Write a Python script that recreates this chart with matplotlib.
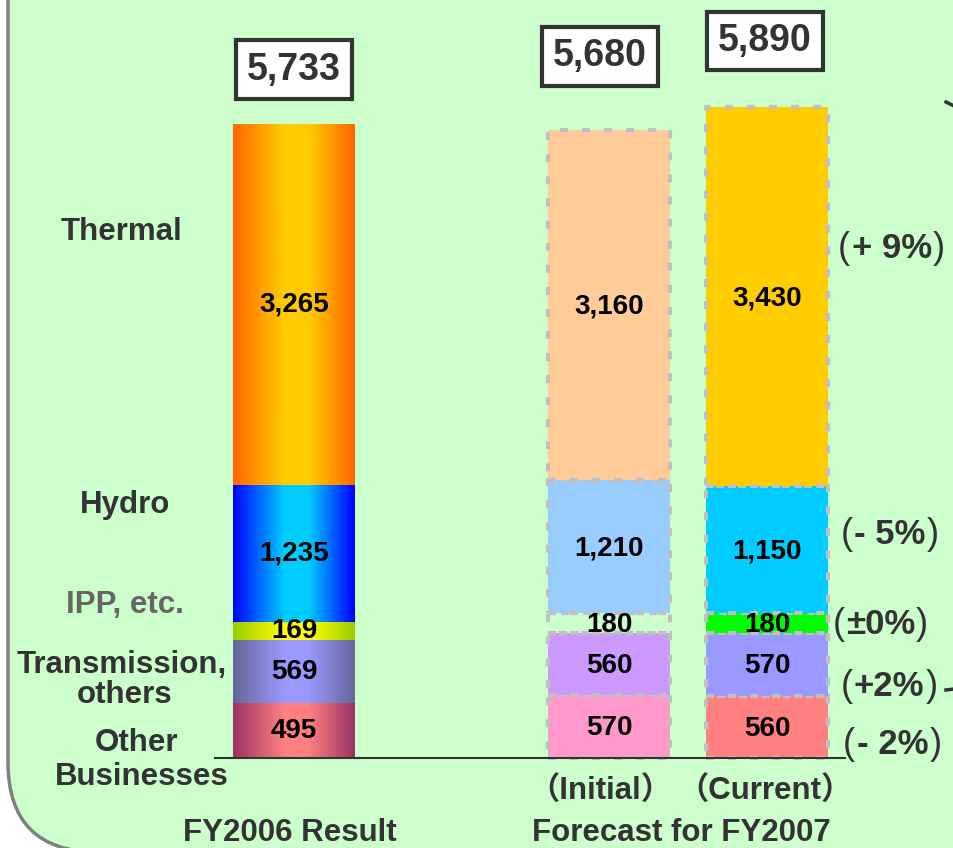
import numpy as np
import matplotlib
matplotlib.use("Agg")
import matplotlib.pyplot as plt
from matplotlib.colors import LinearSegmentedColormap
from matplotlib.patches import FancyBboxPatch

plt.rcParams['font.family'] = ['Liberation Sans', 'Noto Sans CJK JP']
plt.rcParams['font.weight'] = 'bold'

# data (stack order: bottom -> top)
segments = ["Other Businesses", "Transmission, others", "IPP, etc.", "Hydro", "Thermal"]
fy2006 = [495, 569, 169, 1235, 3265]
initial = [570, 560, 180, 1210, 3160]
current = [560, 570, 180, 1150, 3430]
changes = ["- 2%", "+2%", "±0%", "- 5%", "+ 9%"]

# gradient colours for the FY2006 bar (edge, centre)
grad_cols = [("#993366", "#FF8080"), ("#666699", "#9999FF"), ("#99CC00", "#FFFF00"),
             ("#0000FF", "#00CCFF"), ("#FF6600", "#FFCC00")]
initial_cols = ["#FF99CC", "#CC99FF", "none", "#99CCFF", "#FFCC99"]
current_cols = ["#FF8080", "#9999FF", "#00FF00", "#00CCFF", "#FFCC00"]

W, H = 954, 848
fig = plt.figure(figsize=(W / 100, H / 100), dpi=100)
fig.patch.set_facecolor("white")

# background panel, pixel coordinates
bg = fig.add_axes([0, 0, 1, 1])
bg.set_xlim(0, W)
bg.set_ylim(H, 0)
bg.axis("off")
bg.add_patch(FancyBboxPatch((8, -200), 1200, 1052, boxstyle="round,pad=0,rounding_size=90",
                            facecolor="#CCFFCC", edgecolor="#808080", lw=2.5))
bg.plot([946, 954], [102, 106], color="#333333", lw=2.5)
bg.plot([946, 954], [690, 689], color="#333333", lw=2.5)

# bars axes: value 0 at y=758 px, 0.1105 px per unit
s = 0.1105
ax = fig.add_axes([0, 0, 1, 1])
ax.patch.set_alpha(0)
ax.set_xlim(0, W)
ax.set_ylim(-(H - 758) / s, 758 / s)
ax.axis("off")

bw = 122
x06, xin, xcur = 294, 609, 767
txtc = "#333333"


def grad_cmap(edge, centre):
    return LinearSegmentedColormap.from_list(
        "g", [(0, edge), (0.42, centre), (0.62, centre), (1, edge)])


bottom = 0
grad = np.linspace(0, 1, 256).reshape(1, -1)
for v, (e, c) in zip(fy2006, grad_cols):
    ax.imshow(grad, cmap=grad_cmap(e, c), aspect="auto", interpolation="bilinear",
              extent=[x06 - bw / 2, x06 + bw / 2, bottom, bottom + v], zorder=2)
    ax.text(x06, bottom + v / 2, f"{v:,}", ha="center", va="center", fontsize=20,
            color="black", zorder=5)
    bottom += v

for xc, vals, cols in [(xin, initial, initial_cols), (xcur, current, current_cols)]:
    bottom = 0
    for v, c in zip(vals, cols):
        ax.bar(xc, v, bw, bottom=bottom, color=c, edgecolor="#C0C0C0", lw=3,
               linestyle=(0, (1.9, 3.4)), zorder=2)
        ax.text(xc, bottom + v / 2 - 15, f"{v:,}", ha="center", va="center", fontsize=20,
                color="black", zorder=5)
        bottom += v

# totals
for xc, vals, off in [(x06, fy2006, (0, 55)), (xin, initial, (-9, 74)), (xcur, current, (-2, 66))]:
    tot = sum(vals)
    ax.annotate(f"{tot:,}", (xc, tot), xytext=(off[0] * 0.72, off[1] * 0.72),
                textcoords="offset points", ha="center", va="center", fontsize=27,
                color=txtc, zorder=6,
                bbox=dict(boxstyle="square,pad=0.3", fc="white", ec=txtc, lw=3))

ax.plot([215, 845], [0, 0], color="#333333", lw=1.5, zorder=4)

# category labels (pixel coordinates, one line each)
labels = [("Thermal", 122, 232, txtc), ("Hydro", 125, 505, txtc), ("IPP, etc.", 125, 605, "#666666"),
          ("Transmission,", 122, 665, txtc), ("others", 125, 695, txtc),
          ("Other", 137, 743, txtc), ("Businesses", 142, 777, txtc)]
for t, x, y, c in labels:
    bg.text(x, y, t, ha="center", va="center", fontsize=22.5, color=c)

# change labels: thin parentheses around bold text
renderer = fig.canvas.get_renderer()
pos = [(845, 858, 745), (843, 855, 687), (835, 847, 624), (843, 855, 535), (840, 853, 248)]
for t, (px, mx, y) in zip(changes, pos):
    bg.text(px - 2, y, "(", ha="left", va="center", fontsize=26, fontweight="normal", color=txtc)
    mid = bg.text(mx - 1, y, t, ha="left", va="center", fontsize=25, color=txtc)
    x1 = mid.get_window_extent(renderer).x1
    bg.text(min(x1 + 1, 941), y, ")", ha="left", va="center", fontsize=26, fontweight="normal",
            color=txtc)

bg.text(600, 792, "（Initial）", ha="center", va="center", fontsize=22.5, color=txtc)
bg.text(765, 792, "（Current）", ha="center", va="center", fontsize=22.5, color=txtc)
bg.text(290, 833, "FY2006 Result", ha="center", va="center", fontsize=22.5, color=txtc)
bg.text(681, 833, "Forecast for FY2007", ha="center", va="center", fontsize=22.5, color=txtc)

fig.savefig("out.png", dpi=100)
